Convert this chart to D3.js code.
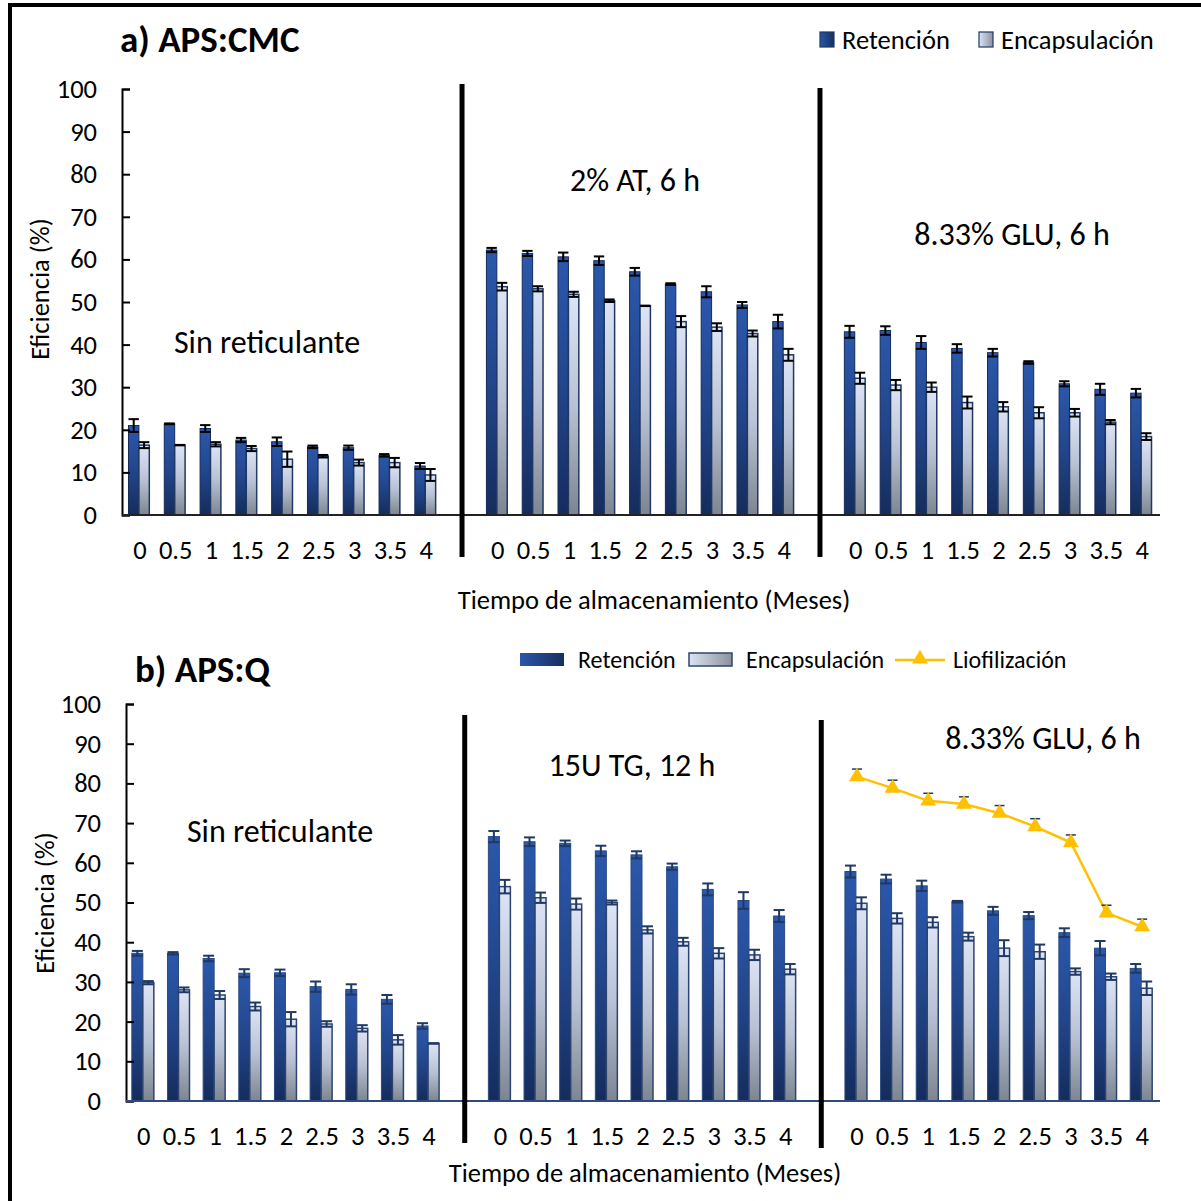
<!DOCTYPE html>
<html><head><meta charset="utf-8">
<script src="https://cdn.jsdelivr.net/npm/d3@7"></script>
<style>
html,body{margin:0;padding:0;background:#fff;}
svg text{font-family:Carlito,Lato,"Open Sans",sans-serif;fill:#000;}
</style></head>
<body>
<svg id="chart" width="1201" height="1201"></svg>
<script>
// ---------- DATA ----------
const months = ["0","0.5","1","1.5","2","2.5","3","3.5","4"];
const yTicks = [0,10,20,30,40,50,60,70,80,90,100];
const seriesNames = ["Retención","Encapsulación","Liofilización"];
const panelATitle = "a) APS:CMC";
const panelBTitle = "b) APS:Q";
const panelAGroups = ["Sin reticulante","2% AT, 6 h","8.33% GLU, 6 h"];
const panelBGroups = ["Sin reticulante","15U TG, 12 h","8.33% GLU, 6 h"];
const yTitle = "Eficiencia (%)";
const xTitle = "Tiempo de almacenamiento (Meses)";

// Panel a (APS:CMC): 3 groups x 9 months
const retA    = [21.0,21.4,20.3,17.6,17.2,16.0,15.8,14.0,11.5,  62.2,61.4,60.6,59.7,57.1,54.2,52.4,49.3,45.4,  43.0,43.3,40.5,39.1,38.1,35.8,30.8,29.5,28.6];
const retAErr = [1.5,0.1,0.8,0.5,1.0,0.3,0.5,0.3,0.7,  0.5,0.6,1.0,1.0,0.9,0.2,1.3,0.7,1.6,  1.4,1.0,1.5,1.0,0.9,0.3,0.6,1.3,1.0];
const encA    = [16.4,16.4,16.6,15.6,13.1,13.8,12.3,12.3,9.4,  53.6,53.1,51.8,50.3,49.1,45.4,44.1,42.6,37.6,  32.1,30.5,30.0,26.4,25.4,24.0,24.0,21.8,18.4];
const encAErr = [0.7,0.05,0.5,0.6,1.8,0.3,0.7,1.1,1.4,  0.9,0.6,0.6,0.3,0.05,1.3,0.9,0.7,1.4,  1.3,1.2,1.1,1.4,1.1,1.3,0.9,0.5,0.8];

// Panel b (APS:Q)
const retB    = [37.2,37.2,35.9,32.2,32.3,28.8,28.1,25.6,18.9,  66.6,65.3,64.9,63.0,62.0,59.0,53.3,50.5,46.6,  57.8,55.9,54.2,50.2,47.9,46.7,42.4,38.5,33.4];
const retBErr = [0.6,0.3,0.7,1.0,0.8,1.3,1.3,1.1,0.7,  1.4,1.1,0.7,1.3,0.9,0.8,1.5,2.1,1.5,  1.5,1.1,1.3,0.2,1.0,0.9,1.1,1.8,1.1];
const encB    = [29.8,28.0,26.7,23.8,20.6,19.4,18.3,15.4,14.5,  54.0,51.2,49.6,50.0,43.1,40.1,37.2,36.8,33.2,  49.8,46.0,45.0,41.4,38.5,37.6,32.6,31.3,28.4];
const encBErr = [0.4,0.6,1.0,1.0,1.8,0.7,0.8,1.2,0.05,  1.7,1.3,1.4,0.5,0.9,1.0,1.3,1.3,1.3,  1.5,1.3,1.3,1.0,2.0,1.8,0.8,0.8,1.7];
// Liofilización only for the third group of panel b
const lioB    = [81.7,78.8,75.6,74.8,72.5,69.1,65.1,47.4,43.9];
const lioBErr = [0.4,0.5,0.4,0.3,0.4,0.5,0.4,0.4,0.4];

// ---------- DRAW ----------
const svg = d3.select("#chart");
const FONT = 'Carlito,Lato,"Open Sans",sans-serif';

// outer frame (top + left edges visible)
svg.append("line").attr("x1",10).attr("x2",1201).attr("y1",5).attr("y2",5).attr("stroke","#000").attr("stroke-width",4);
svg.append("line").attr("x1",10).attr("x2",10).attr("y1",3).attr("y2",1201).attr("stroke","#000").attr("stroke-width",4);

const defs = svg.append("defs");
function grad(id, stops){
  const g = defs.append("linearGradient").attr("id",id).attr("x1",0).attr("y1",0).attr("x2",0).attr("y2",1);
  stops.forEach(s=>g.append("stop").attr("offset",s[0]).attr("stop-color",s[1]));
}
grad("gRet",[[0,"#2B58AC"],[0.5,"#22468C"],[1,"#152C5C"]]);
grad("gEnc",[[0,"#DDE5F5"],[0.5,"#B9C2D4"],[1,"#7D8591"]]);
const gh = defs.append("linearGradient").attr("id","gRetH").attr("x1",0).attr("y1",0).attr("x2",1).attr("y2",0);
gh.append("stop").attr("offset",0).attr("stop-color","#2A56A8");
gh.append("stop").attr("offset",1).attr("stop-color","#16305F");
const gh2 = defs.append("linearGradient").attr("id","gEncH").attr("x1",0).attr("y1",0).attr("x2",1).attr("y2",0);
gh2.append("stop").attr("offset",0).attr("stop-color","#DCE4F4");
gh2.append("stop").attr("offset",1).attr("stop-color","#8B929C");

// category keys: 3 groups of months with an empty separator slot between groups
function buildKeys(){
  const keys=[];
  for(let g=0; g<3; g++){
    months.forEach((m,j)=>keys.push(g+"-"+j));
    if(g<2) keys.push("sep"+g);
  }
  return keys;
}

function drawPanel(cfg){
  const keys = buildKeys();
  const x = d3.scaleBand().domain(keys).range([cfg.x0, cfg.x1]).padding(0);
  const y = d3.scaleLinear().domain([0,100]).range([cfg.yBottom, cfg.yTop]);
  const xi = d3.scaleBand().domain(["R","E"]).range([0, x.bandwidth()]).paddingInner(0).paddingOuter(cfg.po);
  const g = svg.append("g");

  const rows = [];
  for(let gi=0; gi<3; gi++){
    months.forEach((m,j)=>{
      const k=gi*9+j;
      rows.push({key:gi+"-"+j, m, r:cfg.ret[k], re:cfg.retErr[k], e:cfg.enc[k], ee:cfg.encErr[k]});
    });
  }

  const bar = g.selectAll("g.cat").data(rows).join("g").attr("class","cat")
    .attr("transform",d=>`translate(${x(d.key)+cfg.shift},0)`);
  bar.append("rect").attr("x",xi("R")).attr("width",xi.bandwidth())
    .attr("y",d=>y(d.r)).attr("height",d=>y(0)-y(d.r))
    .attr("fill","url(#gRet)").attr("stroke",cfg.retStroke).attr("stroke-width",1);
  bar.append("rect").attr("x",xi("E")).attr("width",xi.bandwidth())
    .attr("y",d=>y(d.e)).attr("height",d=>y(0)-y(d.e))
    .attr("fill","url(#gEnc)").attr("stroke",cfg.encStroke).attr("stroke-width",1.5);

  function err(sel, key, vAcc, eAcc){
    const cx = xi(key)+xi.bandwidth()/2, hw = xi.bandwidth()/2;
    const eg = sel.append("g").attr("stroke",cfg.errColor).attr("stroke-width",2);
    eg.append("line").attr("x1",cx).attr("x2",cx).attr("y1",d=>y(vAcc(d)+eAcc(d))).attr("y2",d=>y(vAcc(d)-eAcc(d)));
    eg.append("line").attr("x1",cx-hw).attr("x2",cx+hw).attr("y1",d=>y(vAcc(d)+eAcc(d))).attr("y2",d=>y(vAcc(d)+eAcc(d)));
    eg.append("line").attr("x1",cx-hw).attr("x2",cx+hw).attr("y1",d=>y(vAcc(d)-eAcc(d))).attr("y2",d=>y(vAcc(d)-eAcc(d)));
  }
  err(bar,"R",d=>d.r,d=>d.re);
  err(bar,"E",d=>d.e,d=>d.ee);

  const ya = d3.axisLeft(y).tickValues(yTicks).tickSize(-8).tickPadding(25).tickFormat(d3.format("d"));
  const yg = g.append("g").attr("transform",`translate(${cfg.x0},0)`).call(ya);
  yg.select(".domain").attr("stroke","#000").attr("stroke-width",2);
  yg.selectAll(".tick line").attr("stroke","#000").attr("stroke-width",2);
  yg.selectAll(".tick text").style("font-family",FONT).style("font-size","26.5px").attr("fill","#000");

  g.append("line").attr("x1",cfg.x0).attr("x2",cfg.x1).attr("y1",y(0)).attr("y2",y(0))
    .attr("stroke",cfg.xAxisColor).attr("stroke-width",2);

  g.selectAll("text.xl").data(rows).join("text").attr("class","xl")
    .attr("x",d=>x(d.key)+x.bandwidth()/2).attr("y",cfg.xLabelY)
    .attr("text-anchor","middle").style("font-size","26.5px").text(d=>d.m);

  ["sep0","sep1"].forEach((s,i)=>{
    g.append("line").attr("x1",x(s)+x.bandwidth()/2).attr("x2",x(s)+x.bandwidth()/2)
      .attr("y1",cfg.sepTop[i]).attr("y2",cfg.sepBottom[i]).attr("stroke","#000").attr("stroke-width",5);
  });

  cfg.groups.forEach((t,i)=>{
    g.append("text").attr("x",cfg.annX[i]).attr("y",cfg.annY[i]).attr("text-anchor","middle")
      .style("font-size","32px").text(t);
  });

  g.append("text").attr("x",cfg.titleX).attr("y",cfg.titleY).style("font-size","37px").style("font-weight","bold").text(cfg.title);
  g.append("text").attr("transform",`translate(${cfg.yTitleX},${cfg.yTitleY}) rotate(-90)`)
    .attr("text-anchor","middle").style("font-size","26.5px").text(yTitle);
  g.append("text").attr("x",cfg.xTitleX).attr("y",cfg.xTitleY).attr("text-anchor","middle").style("font-size","26.5px").text(xTitle);

  return {x,y,g};
}

// Panel a
drawPanel({
  x0:122, x1:1160, yTop:89, yBottom:515, po:0.72, shift:-1,
  ret:retA, retErr:retAErr, enc:encA, encErr:encAErr,
  retStroke:"#142A5A", encStroke:"#1F3864", errColor:"#000", xAxisColor:"#222",
  xLabelY:559, sepTop:[84,88], sepBottom:[557,557],
  groups:panelAGroups, annX:[267,635,1012], annY:[353,191,245],
  title:panelATitle, titleX:120, titleY:52, yTitleX:49, yTitleY:289, xTitleX:654, xTitleY:609
});

// Panel b
const pb = drawPanel({
  x0:126, x1:1160, yTop:704, yBottom:1101, po:0.62, shift:-1,
  ret:retB, retErr:retBErr, enc:encB, encErr:encBErr,
  retStroke:"#2C4A82", encStroke:"#2E4470", errColor:"#1F3864", xAxisColor:"#2F4B7C",
  xLabelY:1145, sepTop:[715,720], sepBottom:[1143,1148],
  groups:panelBGroups, annX:[280,632,1043], annY:[842,776,749],
  title:panelBTitle, titleX:135, titleY:682, yTitleX:54, yTitleY:903, xTitleX:645, xTitleY:1182
});

// Liofilización line in panel b, third group
const lioRows = months.map((m,j)=>({key:"2-"+j, v:lioB[j], e:lioBErr[j]}));
const cx = d=>pb.x(d.key)+pb.x.bandwidth()/2;
pb.g.append("path").datum(lioRows)
  .attr("d",d3.line().x(cx).y(d=>pb.y(d.v)))
  .attr("fill","none").attr("stroke","#FFC000").attr("stroke-width",2.5);
pb.g.selectAll("line.le").data(lioRows).join("line").attr("class","le")
  .attr("x1",d=>cx(d)-5).attr("x2",d=>cx(d)+5).attr("y1",d=>pb.y(d.v+d.e)-6).attr("y2",d=>pb.y(d.v+d.e)-6)
  .attr("stroke","#1F3864").attr("stroke-width",1.5);
pb.g.selectAll("path.tri").data(lioRows).join("path").attr("class","tri")
  .attr("d",d3.symbol().type(d3.symbolTriangle).size(110))
  .attr("transform",d=>`translate(${cx(d)},${pb.y(d.v)})`)
  .attr("fill","#FFC000");

// Legend a
const la = svg.append("g");
la.append("rect").attr("x",820).attr("y",32).attr("width",14).attr("height",15).attr("fill","url(#gRetH)").attr("stroke","#1F3864").attr("stroke-width",1.2);
la.append("text").attr("x",842).attr("y",49).style("font-size","26.5px").text(seriesNames[0]);
la.append("rect").attr("x",979).attr("y",32).attr("width",14).attr("height",15).attr("fill","url(#gEncH)").attr("stroke","#1F3864").attr("stroke-width",1.2);
la.append("text").attr("x",1001).attr("y",49).style("font-size","26.5px").text(seriesNames[1]);

// Legend b
const lb = svg.append("g");
lb.append("rect").attr("x",520).attr("y",653).attr("width",44).attr("height",13).attr("fill","url(#gRetH)");
lb.append("text").attr("x",578).attr("y",668).style("font-size","24px").text(seriesNames[0]);
lb.append("rect").attr("x",689).attr("y",653).attr("width",43).attr("height",13).attr("fill","url(#gEncH)").attr("stroke","#2E4470").attr("stroke-width",1.5);
lb.append("text").attr("x",746).attr("y",668).style("font-size","24px").text(seriesNames[1]);
lb.append("line").attr("x1",895).attr("x2",945).attr("y1",660).attr("y2",660).attr("stroke","#FFC000").attr("stroke-width",2.5);
lb.append("path").attr("d",d3.symbol().type(d3.symbolTriangle).size(110)).attr("transform","translate(920,659)").attr("fill","#FFC000");
lb.append("text").attr("x",953).attr("y",668).style("font-size","24px").text(seriesNames[2]);
</script>
</body></html>
